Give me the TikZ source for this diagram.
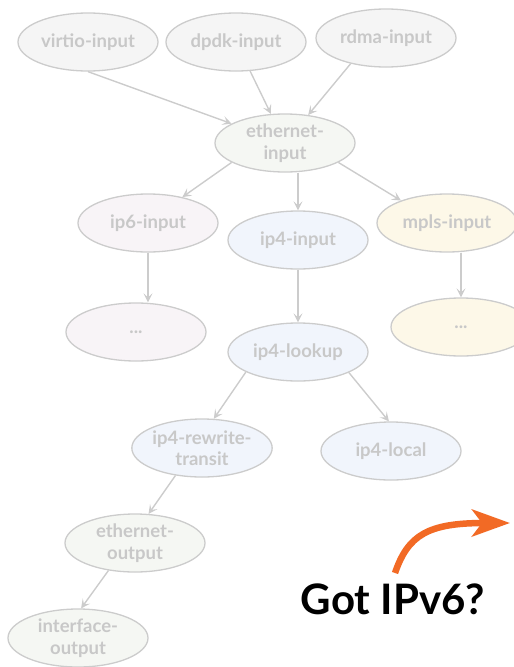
\documentclass[tikz,border=0pt]{standalone}
\usepackage{fontspec}
\setmainfont{Lato}
\usetikzlibrary{shapes.geometric,arrows.meta}
\definecolor{edgegray}{HTML}{CCCCCC}
\definecolor{txtgray}{HTML}{C8C8C8}
\definecolor{fillgray}{HTML}{F5F5F5}
\definecolor{filleth}{HTML}{F5F7F3}
\definecolor{fillsix}{HTML}{F8F4F7}
\definecolor{fillfour}{HTML}{F1F5FC}
\definecolor{fillmpls}{HTML}{FDF8E8}
\definecolor{gotorange}{HTML}{F26A25}
\tikzset{
  vnode/.style={ellipse, draw=edgegray, line width=1.3pt, minimum width=140pt, minimum height=58pt,
    inner sep=0pt, align=center, text=txtgray, font=\fontsize{18.5}{21.5}\selectfont\bfseries},
  conn/.style={draw=edgegray, line width=1.4pt, -{Stealth[length=9pt,width=9pt,inset=4pt]}},
}
\begin{document}
\begin{tikzpicture}[x=1pt,y=-1pt]
\useasboundingbox (0,0) rectangle (514,667);
\node[vnode, fill=fillgray] (virtio) at (88,42) {virtio-input};
\node[vnode, fill=fillgray] (dpdk) at (236,42) {dpdk-input};
\node[vnode, fill=fillgray] (rdma) at (386,38) {rdma-input};
\node[vnode, fill=filleth] (eth) at (285,143) {ethernet-\\input};
\node[vnode, fill=fillsix] (ip6) at (148,223) {ip6-input};
\node[vnode, fill=fillfour] (ip4) at (298,240) {ip4-input};
\node[vnode, fill=fillmpls] (mpls) at (447,223) {mpls-input};
\node[vnode, fill=fillsix] (dotsL) at (136,332) {...};
\node[vnode, fill=fillmpls] (dotsR) at (461,327) {...};
\node[vnode, fill=fillfour] (lookup) at (298,352) {ip4-lookup};
\node[vnode, fill=fillfour] (rewrite) at (202,448) {ip4-rewrite-\\transit};
\node[vnode, fill=fillfour] (local) at (391,451) {ip4-local};
\node[vnode, fill=filleth] (ethout) at (135,543) {ethernet-\\output};
\node[vnode, fill=filleth] (ifout) at (78,638) {interface-\\output};

\draw[conn] (virtio.south) -- (eth);
\draw[conn] (dpdk) -- (eth);
\draw[conn] (rdma.216) -- (eth);
\draw[conn] (eth.200) -- (ip6.37);
\draw[conn] (eth.south -| ip4.north) -- (ip4.north);
\draw[conn] (eth.340) -- (mpls.154);
\draw[conn] (ip6.south) -- (ip6.south |- dotsL.north);
\draw[conn] (mpls.south -| dotsR.north) -- (dotsR.north);
\draw[conn] (ip4) -- (lookup);
\draw[conn] (lookup.201) -- (rewrite.68);
\draw[conn] (lookup.338) -- (local.94);
\draw[conn] (rewrite.226) -- (ethout.65);
\draw[conn] (ethout.226) -- (ifout.84);

\node[font=\fontsize{42}{48}\selectfont\bfseries, text=black, inner sep=0pt] (got) at (393,599) {Got IPv6?};
\coordinate (arrstart) at (395,573);
\coordinate (arrend) at (510,523);
\draw[gotorange, line width=6.5pt, -{Stealth[length=38pt,width=27pt,inset=10pt]}]
  (arrstart) .. controls (408,535) and (428,523) .. (arrend);
\end{tikzpicture}
\end{document}
